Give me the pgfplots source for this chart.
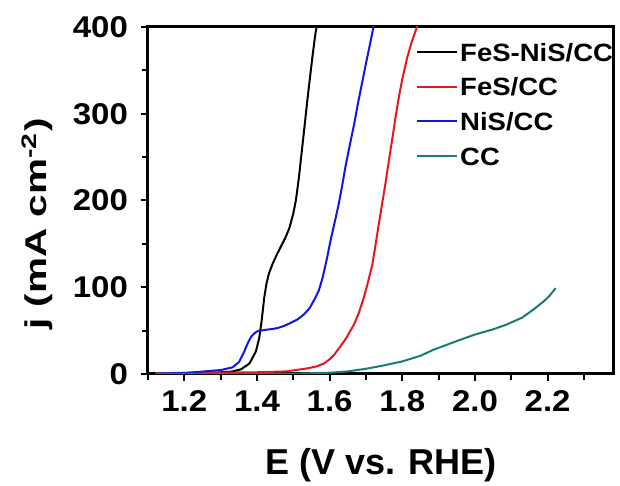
\documentclass[border=0pt]{standalone}
\usepackage{fontspec}
\setmainfont{Liberation Sans}
\newfontfamily\tickfont{Liberation Sans}[FakeStretch=1.1]
\usepackage{graphicx}
\usepackage{pgfplots}
\pgfplotsset{compat=1.18}
\definecolor{cred}{RGB}{228,24,28}
\definecolor{cblue}{RGB}{20,20,230}
\definecolor{cteal}{RGB}{24,124,118}
\begin{document}
\begin{tikzpicture}
\useasboundingbox (-74pt,-56pt) rectangle (236pt,187pt);
\begin{axis}[
  at={(0,0)}, anchor=south west,
  scale only axis, width=232.5pt, height=173.5pt,
  xmin=1.1, xmax=2.38, ymin=0, ymax=400,
  xtick={1.2,1.4,1.6,1.8,2.0,2.2},
  minor xtick={1.1,1.3,1.5,1.7,1.9,2.1,2.3},
  ytick={0,100,200,300,400},
  minor ytick={50,150,250,350},
  tick pos=left, tick align=outside,
  major tick length=3.5pt, minor tick length=3pt,
  every tick/.style={black, line width=1pt},
  axis line style={line width=1.5pt},
  /pgf/number format/assume math mode=true,
  tick label style={font=\tickfont\bfseries\fontsize{15}{15}\selectfont},
  x tick label style={/pgf/number format/fixed, /pgf/number format/fixed zerofill, /pgf/number format/precision=1},
  xticklabel style={anchor=base, yshift=-15.5pt},
  yticklabel style={anchor=east, xshift=-3pt},
  legend cell align=left,
  legend image code/.code={\draw[#1, line width=1pt] (0pt,0pt) -- (20pt,0pt);},
  legend style={draw=none, fill=none, inner sep=0pt,
    at={(axis description cs:0.576,0.96)}, anchor=north west,
    font=\tickfont\bfseries\fontsize{12.5}{12.5}\selectfont,
    nodes={text height=9pt, text depth=0pt, inner sep=1pt},
    row sep=6.3pt},
]
\addplot[black, line width=1pt] table {
1.12 0.5
1.20 0.8
1.28 1.5
1.33 2.7
1.356 5.4
1.379 12
1.397 26
1.406 41
1.413 62
1.420 88
1.426 104
1.433 116
1.443 127
1.455 138
1.466 147
1.478 157
1.489 168
1.500 185
1.507 200
1.515 225
1.521 248
1.530 282
1.539 317
1.546 342
1.553 367
1.560 390
1.566 405
};
\addlegendentry{FeS-NiS/CC}
\addplot[cred, line width=1pt] table {
1.12 1
1.30 1.5
1.40 2
1.48 3
1.539 6.5
1.566 9
1.584 12
1.600 17
1.612 22
1.630 32
1.645 41
1.667 57
1.680 70
1.694 88
1.705 105
1.717 125
1.726 148
1.735 172
1.744 195
1.753 218
1.762 243
1.772 270
1.781 295
1.790 318
1.800 340
1.813 364
1.826 383
1.842 402
};
\addlegendentry{FeS/CC}
\addplot[cblue, line width=1pt] table {
1.12 0.5
1.20 1.2
1.247 2.7
1.301 4.6
1.333 7.7
1.351 14
1.365 26
1.375 36
1.384 43
1.393 47
1.402 49.5
1.425 51
1.445 52
1.457 53
1.475 55.5
1.493 59
1.512 63
1.530 69
1.545 76
1.557 85
1.570 96
1.580 110
1.592 132
1.603 155
1.614 175
1.625 196
1.634 216
1.644 240
1.655 263
1.667 287
1.678 312
1.690 337
1.701 360
1.712 382
1.722 403
};
\addlegendentry{NiS/CC}
\addplot[cteal, line width=1pt] table {
1.12 0
1.50 0.3
1.60 1.5
1.65 3
1.70 6
1.75 10
1.80 14.5
1.85 21
1.886 28
1.95 38
2.00 45.5
2.05 51.5
2.087 57
2.13 65
2.16 74
2.19 84
2.205 90
2.222 99
};
\addlegendentry{CC}
\end{axis}
\node[anchor=base, font=\bfseries\fontsize{18}{18}\selectfont] at (116.5pt,-50.5pt) {E (V vs. RHE)};
\node[rotate=90, anchor=base, font=\bfseries\fontsize{15}{15}\selectfont] at (-50.5pt,75pt) {\scalebox{1.35}[1]{j (mA cm\textsuperscript{-2})}};
\end{tikzpicture}
\end{document}
